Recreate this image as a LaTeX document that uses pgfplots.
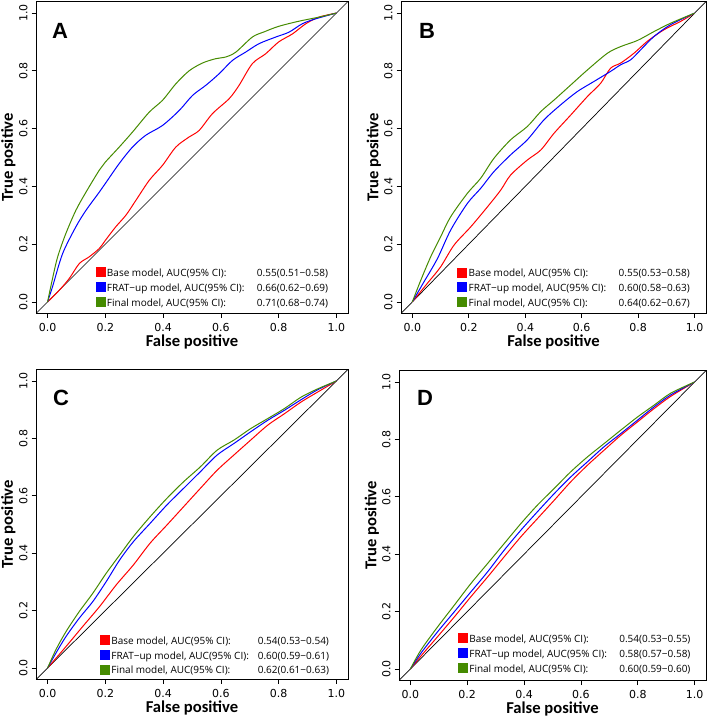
\documentclass[border=0pt]{standalone}
\usepackage{fontspec}
\setmainfont{DejaVu Sans}
\newfontfamily\carlito{Carlito}
\newfontfamily\arialb{Liberation Sans}
\newfontfamily\legfont{Open Sans}
\usepackage{pgfplots}
\pgfplotsset{compat=1.18}

\definecolor{rocred}{RGB}{255,0,0}
\definecolor{rocblue}{RGB}{0,0,255}
\definecolor{rocgreen}{RGB}{69,139,0}

\tikzset{letter/.style={anchor=base west, inner sep=0pt, font=\arialb\bfseries\fontsize{22}{22}\selectfont}}

\pgfplotsset{
  roc/.style={
    scale only axis,
    xmin=-0.04, xmax=1.04, ymin=-0.04, ymax=1.04,
    xtick={0,0.2,0.4,0.6,0.8,1}, ytick={0,0.2,0.4,0.6,0.8,1},
    xticklabels={0.0,0.2,0.4,0.6,0.8,1.0},
    yticklabels={0.0,0.2,0.4,0.6,0.8,1.0},
    tick pos=left, tick align=outside, major tick length=4.5pt,
    every tick/.style={black, line width=0.7pt},
    axis line style={black, line width=0.8pt},
    ticklabel style={font=\fontsize{11}{13}\selectfont, inner sep=0pt},
    xticklabel style={anchor=base},
    xticklabel shift=13.3pt,
    yticklabel style={rotate=90, anchor=base},
    yticklabel shift=4.2pt,
    xlabel={False positive}, ylabel={True positive},
    label style={font=\carlito\bfseries\fontsize{16.6}{18}\selectfont, inner sep=0pt},
    xlabel style={at={(axis description cs:0.5,-0.107)}, anchor=base},
    ylabel style={at={(axis description cs:-0.074,0.5)}, anchor=base},
    legend cell align=left,
    legend image code/.code={\fill[##1,draw=none] (0pt,-3pt) rectangle (10pt,7pt);},
    legend style={draw=none, fill=none, anchor=north west, inner sep=0pt,
      outer sep=0pt, row sep=3pt, font=\legfont\fontsize{10}{11}\selectfont,
      nodes={inner xsep=1.4pt, inner ysep=0pt, text height=7pt, text depth=2.5pt}},
  },
  diag/.style={black, line width=0.7pt, forget plot},
  base/.style={rocred, line width=1pt, smooth, tension=0.5},
  frat/.style={rocblue, line width=1pt, smooth, tension=0.5},
  final/.style={rocgreen, line width=1pt, smooth, tension=0.5},
}

\begin{document}
\begin{tikzpicture}
\useasboundingbox (0,0) rectangle (708pt,721pt);

% A
\begin{axis}[roc, at={(36pt,407.5pt)}, anchor=south west, width=312pt, height=312pt,
  legend style={at={(rel axis cs:0.191,0.148)}}]
\addplot[diag] coordinates {(-0.04,-0.04) (1.04,1.04)};
\addplot[base] coordinates {(0,0) (0.04,0.04) (0.075,0.081) (0.11,0.133) (0.144,0.156) (0.179,0.185) (0.2,0.213) (0.236,0.26) (0.271,0.30) (0.306,0.352) (0.352,0.421) (0.398,0.473) (0.444,0.536) (0.49,0.571) (0.525,0.594) (0.571,0.652) (0.629,0.704) (0.663,0.75) (0.709,0.825) (0.755,0.859) (0.80,0.90) (0.848,0.928) (0.894,0.963) (0.94,0.986) (1,1)};
\addlegendentry{\makebox[150pt][l]{Base model, AUC(95\% CI):}0.55(0.51−0.58)}
\addplot[frat] coordinates {(0,0) (0.017,0.052) (0.052,0.167) (0.098,0.26) (0.133,0.317) (0.179,0.38) (0.2,0.41) (0.248,0.479) (0.294,0.536) (0.34,0.577) (0.398,0.611) (0.456,0.663) (0.502,0.715) (0.548,0.75) (0.594,0.79) (0.64,0.836) (0.686,0.865) (0.732,0.894) (0.79,0.917) (0.836,0.934) (0.882,0.963) (0.928,0.98) (1,1)};
\addlegendentry{\makebox[150pt][l]{FRAT−up model, AUC(95\% CI):}0.66(0.62−0.69)}
\addplot[final] coordinates {(0,0) (0.017,0.08) (0.035,0.156) (0.063,0.236) (0.098,0.317) (0.133,0.38) (0.179,0.456) (0.2,0.484) (0.248,0.536) (0.294,0.588) (0.352,0.657) (0.398,0.698) (0.444,0.755) (0.49,0.80) (0.536,0.827) (0.582,0.842) (0.617,0.848) (0.652,0.865) (0.709,0.917) (0.75,0.935) (0.80,0.954) (0.871,0.972) (0.94,0.986) (1,1)};
\addlegendentry{\makebox[150pt][l]{Final model, AUC(95\% CI):}0.71(0.68−0.74)}
\node[letter] at (rel axis cs:0.0513,0.88) {A};
\end{axis}

% B
\begin{axis}[roc, at={(401pt,407.5pt)}, anchor=south west, width=305pt, height=312pt,
  legend style={at={(rel axis cs:0.1846,0.147)}}]
\addplot[diag] coordinates {(-0.04,-0.04) (1.04,1.04)};
\addplot[base] coordinates {(0,0) (0.053,0.064) (0.1,0.121) (0.148,0.197) (0.207,0.26) (0.266,0.329) (0.313,0.387) (0.348,0.439) (0.407,0.491) (0.455,0.526) (0.502,0.584) (0.561,0.647) (0.62,0.711) (0.667,0.757) (0.702,0.809) (0.738,0.827) (0.785,0.861) (0.832,0.902) (0.891,0.942) (0.95,0.971) (1,1)};
\addlegendentry{\makebox[150pt][l]{Base model, AUC(95\% CI):}0.55(0.53−0.58)}
\addplot[frat] coordinates {(0,0) (0.041,0.069) (0.089,0.15) (0.136,0.249) (0.195,0.341) (0.242,0.393) (0.289,0.451) (0.348,0.509) (0.407,0.561) (0.466,0.63) (0.525,0.682) (0.584,0.728) (0.643,0.763) (0.702,0.798) (0.738,0.821) (0.773,0.838) (0.809,0.873) (0.856,0.919) (0.915,0.96) (1,1)};
\addlegendentry{\makebox[150pt][l]{FRAT−up model, AUC(95\% CI):}0.60(0.58−0.63)}
\addplot[final] coordinates {(0,0) (0.03,0.075) (0.065,0.156) (0.1,0.225) (0.136,0.295) (0.195,0.376) (0.242,0.428) (0.289,0.497) (0.348,0.561) (0.407,0.607) (0.455,0.659) (0.502,0.699) (0.561,0.751) (0.62,0.803) (0.691,0.861) (0.738,0.884) (0.797,0.905) (0.856,0.936) (0.915,0.965) (1,1)};
\addlegendentry{\makebox[150pt][l]{Final model, AUC(95\% CI):}0.64(0.62−0.67)}
\node[letter] at (rel axis cs:0.059,0.881) {B};
\end{axis}

% C
\begin{axis}[roc, at={(36pt,41.5pt)}, anchor=south west, width=312pt, height=310pt,
  legend style={at={(rel axis cs:0.205,0.1435)}}]
\addplot[diag] coordinates {(-0.04,-0.04) (1.04,1.04)};
\addplot[base] coordinates {(0,0) (0.064,0.075) (0.122,0.145) (0.18,0.214) (0.238,0.29) (0.297,0.359) (0.355,0.435) (0.413,0.498) (0.471,0.562) (0.529,0.626) (0.587,0.689) (0.645,0.742) (0.703,0.794) (0.762,0.846) (0.82,0.886) (0.878,0.927) (0.936,0.962) (1,1)};
\addlegendentry{\makebox[146.5pt][l]{Base model, AUC(95\% CI):}0.54(0.53−0.54)}
\addplot[frat] coordinates {(0,0) (0.029,0.052) (0.064,0.11) (0.11,0.174) (0.157,0.232) (0.203,0.301) (0.25,0.377) (0.297,0.44) (0.355,0.504) (0.413,0.568) (0.471,0.626) (0.529,0.684) (0.587,0.742) (0.645,0.782) (0.703,0.823) (0.762,0.863) (0.82,0.898) (0.878,0.935) (0.936,0.97) (1,1)};
\addlegendentry{\makebox[146.5pt][l]{FRAT−up model, AUC(95\% CI):}0.60(0.59−0.61)}
\addplot[final] coordinates {(0,0) (0.029,0.064) (0.064,0.127) (0.11,0.197) (0.157,0.261) (0.203,0.33) (0.25,0.394) (0.297,0.458) (0.355,0.527) (0.413,0.591) (0.471,0.649) (0.529,0.701) (0.587,0.759) (0.645,0.794) (0.703,0.834) (0.762,0.869) (0.82,0.904) (0.878,0.944) (0.936,0.973) (1,1)};
\addlegendentry{\makebox[146.5pt][l]{Final model, AUC(95\% CI):}0.62(0.61−0.63)}
\node[letter] at (rel axis cs:0.0545,0.885) {C};
\end{axis}

% D
\begin{axis}[roc, at={(399pt,40.5pt)}, anchor=south west, width=307pt, height=310pt,
  legend style={at={(rel axis cs:0.192,0.152)}}]
\addplot[diag] coordinates {(-0.04,-0.04) (1.04,1.04)};
\addplot[base] coordinates {(0,0) (0.037,0.045) (0.096,0.113) (0.155,0.182) (0.213,0.252) (0.272,0.321) (0.33,0.391) (0.389,0.461) (0.447,0.524) (0.506,0.588) (0.564,0.652) (0.623,0.71) (0.681,0.762) (0.74,0.814) (0.799,0.861) (0.857,0.907) (0.916,0.95) (1,1)};
\addlegendentry{\makebox[150pt][l]{Base model, AUC(95\% CI):}0.54(0.53−0.55)}
\addplot[frat] coordinates {(0,0) (0.037,0.055) (0.096,0.13) (0.155,0.2) (0.213,0.269) (0.272,0.339) (0.33,0.414) (0.389,0.484) (0.447,0.548) (0.506,0.611) (0.564,0.669) (0.623,0.722) (0.681,0.774) (0.74,0.82) (0.799,0.867) (0.857,0.913) (0.916,0.955) (1,1)};
\addlegendentry{\makebox[150pt][l]{FRAT−up model, AUC(95\% CI):}0.58(0.57−0.58)}
\addplot[final] coordinates {(0,0) (0.037,0.066) (0.096,0.147) (0.155,0.223) (0.213,0.298) (0.272,0.368) (0.33,0.437) (0.389,0.507) (0.447,0.571) (0.506,0.629) (0.564,0.687) (0.623,0.739) (0.681,0.785) (0.74,0.832) (0.799,0.878) (0.857,0.919) (0.916,0.961) (1,1)};
\addlegendentry{\makebox[150pt][l]{Final model, AUC(95\% CI):}0.60(0.59−0.60)}
\node[letter] at (rel axis cs:0.0586,0.887) {D};
\end{axis}
\end{tikzpicture}
\end{document}
